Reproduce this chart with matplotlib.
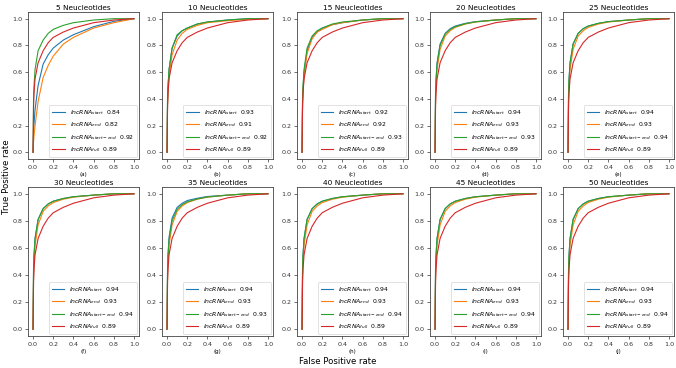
import matplotlib
matplotlib.use('Agg')
from matplotlib import pyplot as plt

# shared false positive rate grid the curves were read at
fpr = [0, 0.005, 0.01, 0.02, 0.05, 0.1, 0.15, 0.2, 0.3, 0.4, 0.6, 0.8, 1.0]

lengths = [5, 10, 15, 20, 25, 30, 35, 40, 45, 50]
tags = ['a', 'b', 'c', 'd', 'e', 'f', 'g', 'h', 'i', 'j']

auc_start = [0.84, 0.93, 0.92, 0.94, 0.94, 0.94, 0.94, 0.94, 0.94, 0.94]
auc_end = [0.82, 0.91, 0.92, 0.93, 0.93, 0.93, 0.93, 0.93, 0.93, 0.93]
auc_start_end = [0.92, 0.92, 0.93, 0.93, 0.94, 0.94, 0.93, 0.94, 0.94, 0.94]
auc_full = [0.89, 0.89, 0.89, 0.89, 0.89, 0.89, 0.89, 0.89, 0.89, 0.89]

tpr_start = [
    [0, 0.15, 0.22, 0.32, 0.50, 0.66, 0.73, 0.78, 0.84, 0.88, 0.94, 0.98, 1.0],
    [0, 0.40, 0.50, 0.62, 0.78, 0.87, 0.91, 0.93, 0.96, 0.975, 0.99, 1.0, 1.0],
    [0, 0.38, 0.48, 0.60, 0.76, 0.86, 0.90, 0.93, 0.955, 0.97, 0.99, 1.0, 1.0],
    [0, 0.45, 0.55, 0.67, 0.81, 0.89, 0.925, 0.945, 0.965, 0.978, 0.99, 1.0, 1.0],
    [0, 0.45, 0.55, 0.67, 0.81, 0.89, 0.925, 0.945, 0.965, 0.978, 0.99, 1.0, 1.0],
    [0, 0.45, 0.55, 0.67, 0.81, 0.89, 0.925, 0.945, 0.965, 0.978, 0.99, 1.0, 1.0],
    [0, 0.46, 0.56, 0.68, 0.82, 0.90, 0.93, 0.95, 0.967, 0.98, 0.99, 1.0, 1.0],
    [0, 0.45, 0.55, 0.67, 0.81, 0.89, 0.925, 0.945, 0.965, 0.978, 0.99, 1.0, 1.0],
    [0, 0.45, 0.55, 0.67, 0.81, 0.89, 0.925, 0.945, 0.965, 0.978, 0.99, 1.0, 1.0],
    [0, 0.45, 0.55, 0.67, 0.81, 0.89, 0.925, 0.945, 0.965, 0.978, 0.99, 1.0, 1.0],
]
tpr_end = [
    [0, 0.08, 0.13, 0.20, 0.38, 0.56, 0.65, 0.72, 0.81, 0.86, 0.93, 0.97, 1.0],
    [0, 0.35, 0.45, 0.57, 0.73, 0.84, 0.89, 0.92, 0.95, 0.97, 0.985, 0.995, 1.0],
    [0, 0.36, 0.46, 0.58, 0.74, 0.85, 0.90, 0.92, 0.955, 0.97, 0.99, 1.0, 1.0],
    [0, 0.40, 0.50, 0.62, 0.77, 0.87, 0.91, 0.935, 0.96, 0.975, 0.99, 1.0, 1.0],
    [0, 0.40, 0.50, 0.62, 0.77, 0.87, 0.91, 0.935, 0.96, 0.975, 0.99, 1.0, 1.0],
    [0, 0.40, 0.50, 0.62, 0.77, 0.87, 0.91, 0.935, 0.96, 0.975, 0.99, 1.0, 1.0],
    [0, 0.40, 0.50, 0.62, 0.77, 0.87, 0.91, 0.935, 0.96, 0.975, 0.99, 1.0, 1.0],
    [0, 0.40, 0.50, 0.62, 0.77, 0.87, 0.91, 0.935, 0.96, 0.975, 0.99, 1.0, 1.0],
    [0, 0.40, 0.50, 0.62, 0.77, 0.87, 0.91, 0.935, 0.96, 0.975, 0.99, 1.0, 1.0],
    [0, 0.40, 0.50, 0.62, 0.77, 0.87, 0.91, 0.935, 0.96, 0.975, 0.99, 1.0, 1.0],
]
tpr_start_end = [
    [0, 0.40, 0.50, 0.62, 0.76, 0.84, 0.89, 0.92, 0.95, 0.97, 0.99, 1.0, 1.0],
    [0, 0.40, 0.50, 0.62, 0.78, 0.88, 0.91, 0.93, 0.96, 0.975, 0.99, 1.0, 1.0],
    [0, 0.40, 0.50, 0.62, 0.78, 0.87, 0.91, 0.93, 0.96, 0.975, 0.99, 1.0, 1.0],
    [0, 0.44, 0.54, 0.66, 0.80, 0.885, 0.92, 0.94, 0.962, 0.976, 0.99, 1.0, 1.0],
    [0, 0.45, 0.55, 0.67, 0.81, 0.89, 0.925, 0.945, 0.965, 0.978, 0.99, 1.0, 1.0],
    [0, 0.45, 0.55, 0.67, 0.81, 0.89, 0.925, 0.945, 0.965, 0.978, 0.99, 1.0, 1.0],
    [0, 0.44, 0.54, 0.66, 0.80, 0.885, 0.92, 0.94, 0.962, 0.976, 0.99, 1.0, 1.0],
    [0, 0.45, 0.55, 0.67, 0.81, 0.89, 0.925, 0.945, 0.965, 0.978, 0.99, 1.0, 1.0],
    [0, 0.45, 0.55, 0.67, 0.81, 0.89, 0.925, 0.945, 0.965, 0.978, 0.99, 1.0, 1.0],
    [0, 0.45, 0.55, 0.67, 0.81, 0.89, 0.925, 0.945, 0.965, 0.978, 0.99, 1.0, 1.0],
]
# full-length model is the same in every panel
tpr_full = [0, 0.35, 0.45, 0.55, 0.67, 0.76, 0.82, 0.86, 0.90, 0.93, 0.97, 0.99, 1.0]

names = [r'$lncRNA_{start}$', r'$lncRNA_{end}$', r'$lncRNA_{start-end}$', r'$lncRNA_{full}$']
colors = ['#1f77b4', '#ff7f0e', '#2ca02c', '#d62728']

fig = plt.figure(figsize=(6.76, 3.68), dpi=100)
W, H = 676, 368
col_left = [28, 162, 297, 430, 563]
row_box = [(12, 159), (187, 336)]

for k in range(10):
    r, c = divmod(k, 5)
    top, bot = row_box[r]
    ax = fig.add_axes([col_left[c] / W, 1 - bot / H, 111 / W, (bot - top) / H])
    series = [tpr_start[k], tpr_end[k], tpr_start_end[k], tpr_full]
    aucs = [auc_start[k], auc_end[k], auc_start_end[k], auc_full[k]]
    for name, col, tpr, auc in zip(names, colors, series, aucs):
        ax.plot(fpr, tpr, color=col, lw=0.8, label=f'{name}  {auc:.2f}')
    ax.set_xticks([0, 0.2, 0.4, 0.6, 0.8, 1.0])
    ax.set_yticks([0, 0.2, 0.4, 0.6, 0.8, 1.0])
    ax.tick_params(labelsize=4.6, length=2.5, width=0.5, pad=1.5, colors='#333333')
    for s in ax.spines.values():
        s.set_linewidth(0.6)
        s.set_color('#444444')
    ax.set_title(f'{lengths[k]} Neucleotides', fontsize=5.3, pad=1.5)
    ax.set_xlabel(f'({tags[k]})', fontsize=4, labelpad=1.5)
    leg = ax.legend(loc='lower right', fontsize=4.4, handlelength=2.0, borderpad=0.55,
                    labelspacing=0.55, handletextpad=0.8, borderaxespad=0.3,
                    frameon=True, fancybox=True)
    leg.get_frame().set_linewidth(0.5)

fig.text(0.5, 1 - 362 / H, 'False Positive rate', ha='center', va='center', fontsize=6.1)
fig.text(7 / W, 1 - 177 / H, 'True Positive rate', ha='center', va='center', rotation=90, fontsize=6.2)

fig.savefig('out.png', dpi=100)
